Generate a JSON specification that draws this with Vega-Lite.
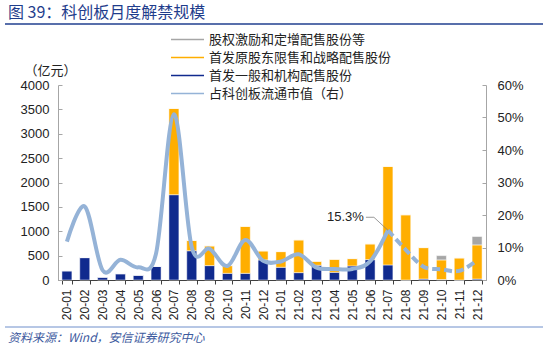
{
  "$schema": "https://vega.github.io/schema/vega-lite/v6.json",
  "width": 428,
  "height": 195,
  "autosize": {"type": "none"},
  "padding": {"left": 58, "top": 85, "right": 64, "bottom": 68},
  "background": "white",
  "config": {
    "font": "Liberation Sans",
    "view": {"stroke": null},
    "axis": {"grid": false}
  },
  "title": {
    "text": "图 39：科创板月度解禁规模",
    "anchor": "start",
    "frame": "group",
    "dx": -50,
    "dy": 2,
    "font": "Noto Sans CJK SC",
    "fontSize": 16,
    "fontWeight": "normal",
    "color": "#1F3D8C"
  },
  "datasets": {
    "main": [
      {"month": "20-01", "ipo_general": 190, "ipo_strategic": 0, "other": 0, "pct": 11.8},
      {"month": "20-02", "ipo_general": 460, "ipo_strategic": 0, "other": 0, "pct": 22.6},
      {"month": "20-03", "ipo_general": 60, "ipo_strategic": 0, "other": 0, "pct": 3.0},
      {"month": "20-04", "ipo_general": 130, "ipo_strategic": 0, "other": 0, "pct": 6.2},
      {"month": "20-05", "ipo_general": 100, "ipo_strategic": 0, "other": 0, "pct": 3.9},
      {"month": "20-06", "ipo_general": 280, "ipo_strategic": 0, "other": 0, "pct": 8.2},
      {"month": "20-07", "ipo_general": 1750, "ipo_strategic": 1770, "other": 0, "pct": 51.0},
      {"month": "20-08", "ipo_general": 600, "ipo_strategic": 210, "other": 0, "pct": 10.1},
      {"month": "20-09", "ipo_general": 295, "ipo_strategic": 405, "other": 0, "pct": 9.6},
      {"month": "20-10", "ipo_general": 137, "ipo_strategic": 158, "other": 0, "pct": 4.3},
      {"month": "20-11", "ipo_general": 137, "ipo_strategic": 963, "other": 0, "pct": 12.3},
      {"month": "20-12", "ipo_general": 412, "ipo_strategic": 185, "other": 0, "pct": 5.9},
      {"month": "21-01", "ipo_general": 261, "ipo_strategic": 322, "other": 0, "pct": 5.7},
      {"month": "21-02", "ipo_general": 151, "ipo_strategic": 672, "other": 0, "pct": 7.9},
      {"month": "21-03", "ipo_general": 302, "ipo_strategic": 82, "other": 0, "pct": 3.8},
      {"month": "21-04", "ipo_general": 158, "ipo_strategic": 267, "other": 0, "pct": 3.4},
      {"month": "21-05", "ipo_general": 288, "ipo_strategic": 151, "other": 0, "pct": 3.4},
      {"month": "21-06", "ipo_general": 418, "ipo_strategic": 323, "other": 0, "pct": 5.7},
      {"month": "21-07", "ipo_general": 309, "ipo_strategic": 2021, "other": 0, "pct": 15.3},
      {"month": "21-08", "ipo_general": 0, "ipo_strategic": 1338, "other": 0, "pct": 9.3},
      {"month": "21-09", "ipo_general": 20, "ipo_strategic": 645, "other": 0, "pct": 4.1},
      {"month": "21-10", "ipo_general": 10, "ipo_strategic": 402, "other": 88, "pct": 3.3},
      {"month": "21-11", "ipo_general": 0, "ipo_strategic": 453, "other": 0, "pct": 2.8},
      {"month": "21-12", "ipo_general": 20, "ipo_strategic": 700, "other": 172, "pct": 6.0}
    ],
    "note": [{"month": "21-07", "pct": 15.3, "label": "15.3%"}]
  },
  "layer": [
    {
      "data": {"name": "main"},
      "transform": [{"fold": ["ipo_general", "ipo_strategic", "other"], "as": ["cat", "val"]}],
      "mark": {"type": "bar", "stroke": "white", "strokeWidth": 0.5},
      "encoding": {
        "x": {
          "field": "month",
          "type": "ordinal",
          "scale": {"paddingInner": 0.44, "paddingOuter": 0.22},
          "axis": {
            "title": null,
            "labelAngle": -90,
            "labelAlign": "right",
            "labelBaseline": "middle",
            "labelFontSize": 12,
            "labelColor": "#222222",
            "labelPadding": 5,
            "domainColor": "#404040",
            "tickColor": "#404040",
            "tickBand": "extent",
            "tickSize": 4
          }
        },
        "y": {
          "field": "val",
          "type": "quantitative",
          "stack": "zero",
          "scale": {"domain": [0, 4000], "nice": false},
          "axis": {
            "title": "（亿元）",
            "titleAngle": 0,
            "titleAlign": "center",
            "titleBaseline": "middle",
            "titleX": -8,
            "titleY": -15,
            "titleFont": "Noto Sans CJK SC",
            "titleFontSize": 13,
            "titleFontWeight": "normal",
            "titleColor": "#222222",
            "values": [0, 500, 1000, 1500, 2000, 2500, 3000, 3500, 4000],
            "format": "d",
            "labelFontSize": 13,
            "labelColor": "#222222",
            "labelPadding": 13,
            "tickSize": -4,
            "domainColor": "#A6A6A6",
            "tickColor": "#A6A6A6"
          }
        },
        "color": {
          "field": "cat",
          "type": "nominal",
          "scale": {
            "domain": ["other", "ipo_strategic", "ipo_general", "share"],
            "range": ["#A6A6A6", "#FFAE00", "#102A8E", "#95B3D7"]
          },
          "legend": {
            "orient": "none",
            "legendX": 123,
            "legendY": -52,
            "title": null,
            "symbolType": "M-3.3,0H3.3",
            "symbolSize": 100,
            "labelFont": "Noto Sans CJK SC",
            "labelFontSize": 13,
            "labelColor": "#222222",
            "labelOffset": 15,
            "labelLimit": 400,
            "rowPadding": 4,
            "labelExpr": "datum.label === 'other' ? '股权激励和定增配售股份等' : datum.label === 'ipo_strategic' ? '首发原股东限售和战略配售股份' : datum.label === 'ipo_general' ? '首发一般和机构配售股份' : '占科创板流通市值（右）'",
            "encode": {
              "symbols": {
                "update": {
                  "stroke": {"scale": "color", "field": "value"},
                  "strokeWidth": [{"test": "datum.value === 'share'", "value": 3}, {"value": 6}],
                  "fill": {"value": "transparent"}
                }
              }
            }
          }
        },
        "order": {"field": "cat", "sort": "ascending"}
      }
    },
    {
      "encoding": {
        "x": {"field": "month", "type": "ordinal"},
        "y": {
          "field": "pct",
          "type": "quantitative",
          "scale": {"domain": [0, 60], "nice": false},
          "axis": {
            "orient": "right",
            "title": null,
            "values": [0, 10, 20, 30, 40, 50, 60],
            "labelExpr": "datum.value + '%'",
            "labelFontSize": 13,
            "labelColor": "#222222",
            "labelPadding": 15,
            "labelOverlap": false,
            "tickSize": -4,
            "domainColor": "#A6A6A6",
            "tickColor": "#A6A6A6"
          }
        }
      },
      "layer": [
        {
          "data": {"name": "main"},
          "transform": [{"filter": "datum.month <= '21-07'"}],
          "mark": {"type": "line", "interpolate": "cardinal", "strokeWidth": 4},
          "encoding": {"color": {"datum": "share", "type": "nominal"}}
        },
        {
          "data": {"name": "main"},
          "transform": [{"filter": "datum.month >= '21-07'"}],
          "mark": {"type": "line", "interpolate": "cardinal", "strokeWidth": 4, "strokeDash": [8, 4]},
          "encoding": {"color": {"datum": "share", "type": "nominal"}}
        },
        {
          "data": {"name": "note"},
          "mark": {"type": "text", "align": "right", "baseline": "middle", "dx": -24, "dy": -13, "fontSize": 13, "color": "#222222"},
          "encoding": {"text": {"field": "label"}}
        },
        {
          "data": {"name": "note"},
          "mark": {"type": "rule", "color": "#808080", "strokeWidth": 0.8, "x2Offset": -14, "y2Offset": -13},
          "encoding": {
            "x": {"field": "month", "type": "ordinal", "bandPosition": 0.5},
            "x2": {"field": "month", "bandPosition": 0.5},
            "y2": {"field": "pct"}
          }
        },
        {
          "data": {"name": "note"},
          "mark": {"type": "rule", "color": "#808080", "strokeWidth": 0.8, "xOffset": -14, "x2Offset": -22, "yOffset": -13, "y2Offset": -13},
          "encoding": {
            "x": {"field": "month", "type": "ordinal", "bandPosition": 0.5},
            "x2": {"field": "month", "bandPosition": 0.5},
            "y2": {"field": "pct"}
          }
        }
      ]
    },
    {
      "data": {"values": [{}]},
      "mark": {"type": "rule", "color": "#203F8F", "strokeWidth": 1.5},
      "encoding": {"x": {"value": -53}, "x2": {"value": 485}, "y": {"value": -61}}
    },
    {
      "data": {"values": [{}]},
      "mark": {"type": "rule", "color": "#6E8FCB", "strokeWidth": 1},
      "encoding": {"x": {"value": -53}, "x2": {"value": 485}, "y": {"value": 242}}
    },
    {
      "data": {"values": [{}]},
      "mark": {"type": "text", "align": "left", "baseline": "middle", "font": "Noto Sans CJK SC", "fontSize": 12, "fontStyle": "italic", "color": "#3D5A9E"},
      "encoding": {"x": {"value": -50}, "y": {"value": 253}, "text": {"value": "资料来源：Wind，安信证券研究中心"}}
    }
  ],
  "resolve": {"scale": {"y": "independent"}}
}
